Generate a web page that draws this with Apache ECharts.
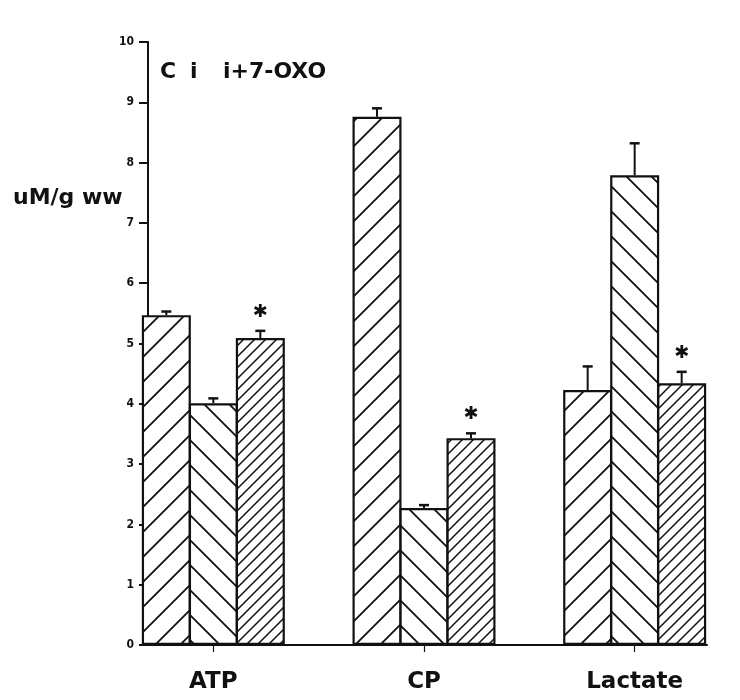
<!DOCTYPE html>
<html>
<head>
<meta charset="utf-8">
<script src="https://cdn.jsdelivr.net/npm/echarts@6/dist/echarts.min.js"></script>
<style>
  html, body { margin: 0; padding: 0; background: #fff; }
  #chart { width: 740px; height: 700px; }
</style>
</head>
<body>
<div id="chart"></div>
<script>
// values (uM/g wet weight)
const categories = ['ATP', 'CP', 'Lactate'];
const seriesNames = ['C', 'i', 'i+7-OXO'];
const cValues = [5.47, 8.76, 4.23];
const iValues = [4.01, 2.27, 7.79];
const oxoValues = [5.09, 3.43, 4.34];
const cErr = [0.06, 0.14, 0.39];
const iErr = [0.08, 0.05, 0.53];
const oxoErr = [0.12, 0.08, 0.19];
const oxoStar = [true, true, true];
const yTicks = [0, 10, 1]; // min, max, interval

const INK = '#111';
const BAR_W = 49;
const BAR_STEP = 47; // bars overlap by their border
const FONT = 'DejaVu Sans';

// hatch tiles
function hatch(size, dir, lw) {
    const c = document.createElement('canvas');
    c.width = size;
    c.height = size;
    const ctx = c.getContext('2d');
    ctx.fillStyle = '#fff';
    ctx.fillRect(0, 0, size, size);
    ctx.strokeStyle = INK;
    ctx.lineWidth = lw;
    ctx.beginPath();
    for (let k = -1; k <= 1; k++) {
        if (dir === '/') {
            ctx.moveTo(k * size - 1, size + 1);
            ctx.lineTo(k * size + size + 1, -1);
        } else {
            ctx.moveTo(k * size - 1, -1);
            ctx.lineTo(k * size + size + 1, size + 1);
        }
    }
    ctx.stroke();
    return { image: c, repeat: 'repeat' };
}

const fills = [hatch(25, '/', 1.8), hatch(25, '\\', 1.8), hatch(11, '/', 1.5)];
const values = [cValues, iValues, oxoValues];
const errs = [cErr, iErr, oxoErr];

const barSeries = values.map((vals, s) => ({
    name: seriesNames[s],
    type: 'bar',
    xAxisIndex: 0,
    yAxisIndex: 0,
    barWidth: BAR_W,
    barGap: ((BAR_STEP - BAR_W) / BAR_W * 100) + '%',
    data: vals,
    itemStyle: { color: fills[s], borderColor: INK, borderWidth: 2.2 },
    silent: true
}));

const errData = [];
errs.forEach((arr, s) => {
    arr.forEach((e, k) => errData.push([k, values[s][k], e, s]));
});

const starData = [];
oxoStar.forEach((f, k) => {
    if (f) starData.push([k, oxoValues[k] + oxoErr[k]]);
});

const chart = echarts.init(document.getElementById('chart'), null, { renderer: 'canvas' });

chart.setOption({
    backgroundColor: '#fff',
    animation: false,
    grid: [
        { left: 108, top: 42, width: 633, height: 603 },
        { left: 148, top: 42, width: 559, height: 603 }
    ],
    xAxis: [
        {
            type: 'category',
            gridIndex: 0,
            data: categories,
            axisLine: { show: false },
            axisTick: { show: true, alignWithLabel: true, length: 7, lineStyle: { color: INK, width: 1.2 } },
            axisLabel: { color: INK, fontFamily: FONT, fontWeight: 'bold', fontSize: 23, margin: 26 }
        },
        {
            type: 'value',
            gridIndex: 1,
            min: 0,
            max: 1,
            axisLine: { show: true, onZero: false, lineStyle: { color: INK, width: 2 } },
            axisTick: { show: false },
            axisLabel: { show: false },
            splitLine: { show: false }
        }
    ],
    yAxis: [
        {
            type: 'value',
            gridIndex: 0,
            min: yTicks[0],
            max: yTicks[1],
            show: false
        },
        {
            type: 'value',
            gridIndex: 1,
            min: yTicks[0],
            max: yTicks[1],
            interval: yTicks[2],
            axisLine: { show: true, lineStyle: { color: INK, width: 2 } },
            axisTick: { show: true, length: 9, lineStyle: { color: INK, width: 2 } },
            axisLabel: { color: INK, fontFamily: 'DejaVu Sans Condensed', fontWeight: 'bold', fontSize: 12, margin: 14 },
            splitLine: { show: false }
        }
    ],
    graphic: [
        { type: 'text', left: 13, top: 187, style: { text: 'uM/g ww', fill: INK, font: 'bold 22px "DejaVu Sans"' } },
        { type: 'text', left: 160, top: 61, style: { text: 'C', fill: INK, font: 'bold 22px "DejaVu Sans"' } },
        { type: 'text', left: 190, top: 61, style: { text: 'i', fill: INK, font: 'bold 22px "DejaVu Sans"' } },
        { type: 'text', left: 223, top: 61, style: { text: 'i+7-OXO', fill: INK, font: 'bold 22px "DejaVu Sans"' } }
    ],
    series: barSeries.concat([
        {
            type: 'custom',
            xAxisIndex: 0,
            yAxisIndex: 0,
            silent: true,
            z: 5,
            data: errData,
            renderItem(params, api) {
                const k = api.value(0);
                const s = api.value(3);
                const base = api.coord([k, api.value(1)]);
                const hi = api.coord([k, api.value(1) + api.value(2)]);
                const x = base[0] + (s - 1) * BAR_STEP;
                return {
                    type: 'group',
                    children: [
                        { type: 'line', shape: { x1: x, y1: base[1], x2: x, y2: hi[1] }, style: { stroke: INK, lineWidth: 2 } },
                        { type: 'line', shape: { x1: x - 5, y1: hi[1], x2: x + 5, y2: hi[1] }, style: { stroke: INK, lineWidth: 2.5 } }
                    ]
                };
            }
        },
        {
            type: 'custom',
            xAxisIndex: 0,
            yAxisIndex: 0,
            silent: true,
            z: 5,
            data: starData,
            renderItem(params, api) {
                const p = api.coord([api.value(0), api.value(1)]);
                return {
                    type: 'text',
                    x: p[0] + BAR_STEP,
                    y: p[1] - 19,
                    style: { text: '\u2731', fill: INK, font: 'bold 18px "DejaVu Sans"', align: 'center', verticalAlign: 'middle' }
                };
            }
        }
    ])
});
</script>
</body>
</html>
